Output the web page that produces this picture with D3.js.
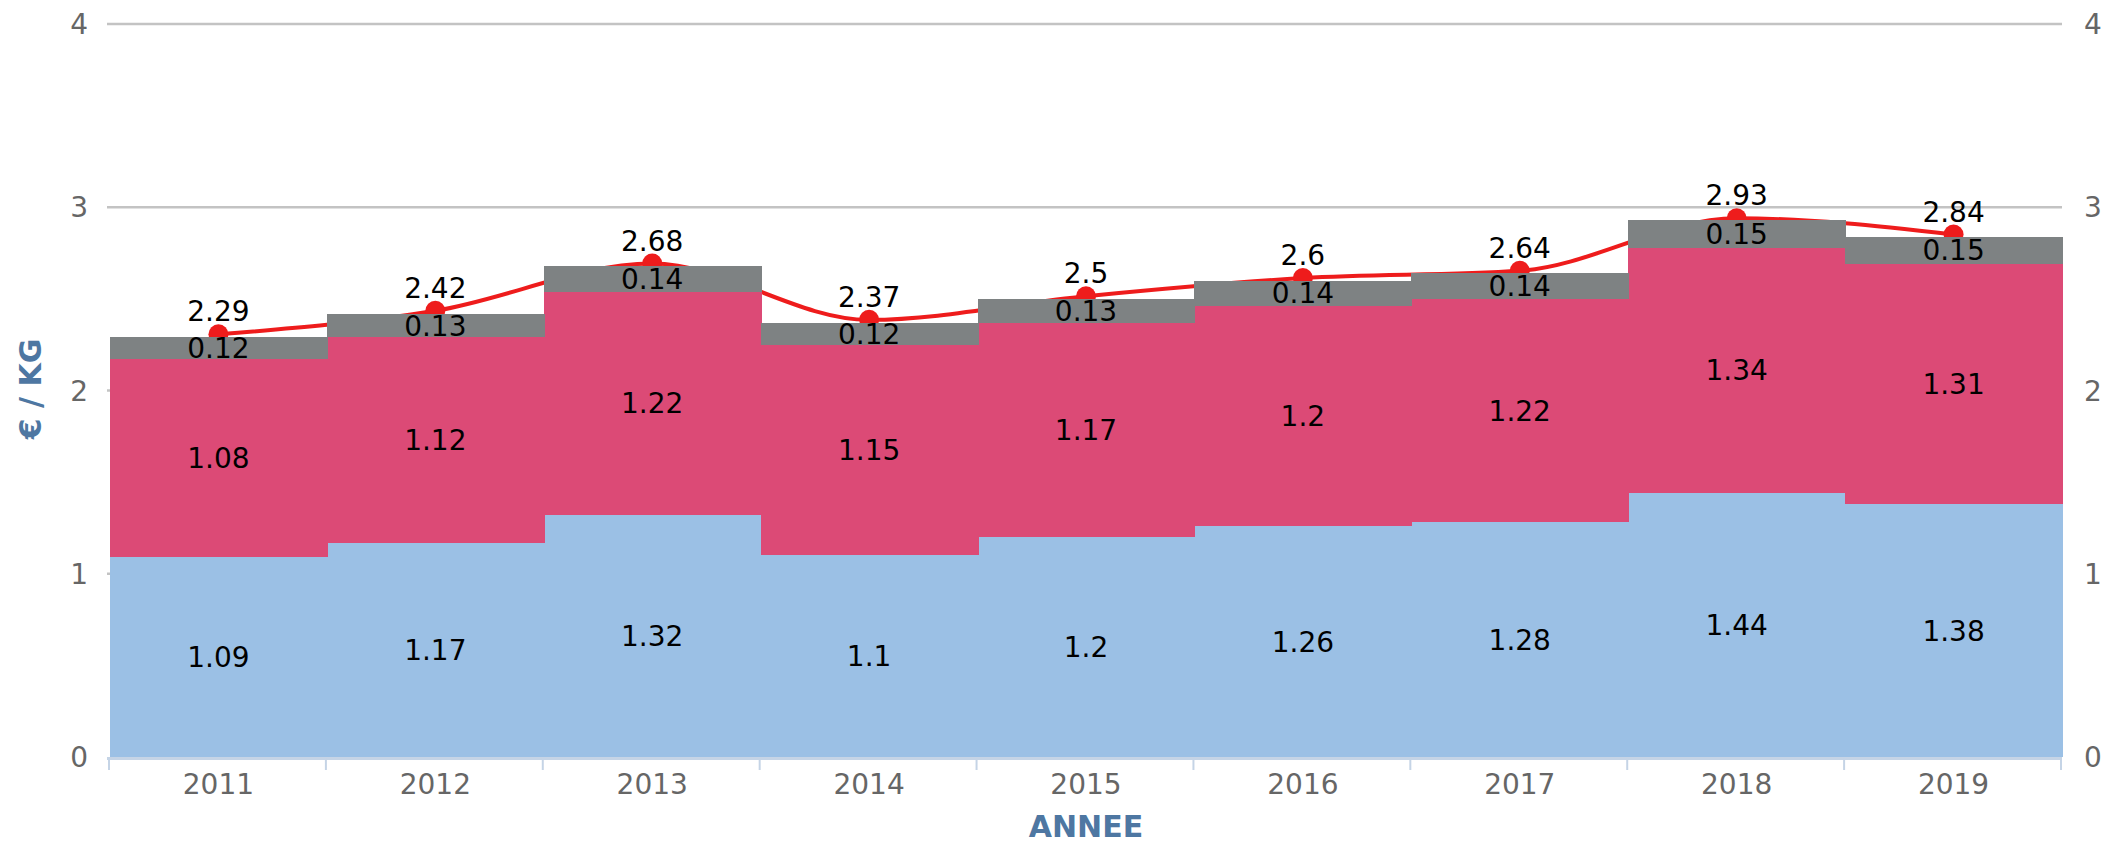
<!DOCTYPE html>
<html>
<head>
<meta charset="utf-8">
<script src="https://cdn.jsdelivr.net/npm/d3@7.9.0/dist/d3.min.js"></script>
<style>
  body { margin: 0; background: #fff; }
  svg { display: block; font-family: 'DejaVu Sans', sans-serif; }
</style>
</head>
<body>
<div id="chart"></div>
<script>
const years = ['2011', '2012', '2013', '2014', '2015', '2016', '2017', '2018', '2019'];
const blueValues = [1.09, 1.17, 1.32, 1.1, 1.2, 1.26, 1.28, 1.44, 1.38];
const redValues = [1.08, 1.12, 1.22, 1.15, 1.17, 1.2, 1.22, 1.34, 1.31];
const greyValues = [0.12, 0.13, 0.14, 0.12, 0.13, 0.14, 0.14, 0.15, 0.15];
const totalValues = [2.29, 2.42, 2.68, 2.37, 2.5, 2.6, 2.64, 2.93, 2.84];
const yTicks = [0, 1, 2, 3, 4];

const seriesKeys = ['blue', 'red', 'grey'];
const seriesColors = { blue: '#9bc0e5', red: '#dc4a76', grey: '#7e8283' };

const width = 2105;
const height = 845;

const rows = years.map((year, i) => ({
  year,
  blue: blueValues[i],
  red: redValues[i],
  grey: greyValues[i],
  total: totalValues[i],
}));

const svg = d3.select('#chart')
  .append('svg')
  .attr('width', width)
  .attr('height', height);

const x = d3.scaleBand().domain(years).range([110, 2062]).padding(0);
const y = d3.scaleLinear().domain([0, 4]).range([757, 24]);
const yLine = d3.scaleLinear().domain([0, 4]).range([750, 24]);

// gridlines
svg.append('g')
  .selectAll('line')
  .data(yTicks.filter(d => d > 0))
  .join('line')
  .attr('x1', 107)
  .attr('x2', 2062)
  .attr('y1', d => y(d))
  .attr('y2', d => y(d))
  .attr('stroke', '#c3c3c3')
  .attr('stroke-width', 2.5);

// left and right tick labels
svg.append('g')
  .selectAll('text')
  .data(yTicks)
  .join('text')
  .attr('x', 88)
  .attr('y', d => y(d))
  .attr('dy', '0.36em')
  .attr('text-anchor', 'end')
  .attr('font-size', 28)
  .attr('fill', '#666')
  .text(d => d);

svg.append('g')
  .selectAll('text')
  .data(yTicks)
  .join('text')
  .attr('x', 2084)
  .attr('y', d => y(d))
  .attr('dy', '0.36em')
  .attr('text-anchor', 'start')
  .attr('font-size', 28)
  .attr('fill', '#666')
  .text(d => d);

// total line (drawn beneath the bars)
const line = d3.line()
  .x(d => x(d.year) + x.bandwidth() / 2)
  .y(d => yLine(d.total))
  .curve(d3.curveMonotoneX);

svg.append('path')
  .datum(rows)
  .attr('d', line)
  .attr('fill', 'none')
  .attr('stroke', '#ee1c1c')
  .attr('stroke-width', 4);

svg.append('g')
  .selectAll('circle')
  .data(rows)
  .join('circle')
  .attr('cx', d => x(d.year) + x.bandwidth() / 2)
  .attr('cy', d => yLine(d.total))
  .attr('r', 10)
  .attr('fill', '#ee1c1c');

// stacked bars
const stack = d3.stack().keys(seriesKeys);
const stacked = stack(rows);

const layers = svg.append('g')
  .attr('shape-rendering', 'crispEdges')
  .selectAll('g')
  .data(stacked)
  .join('g')
  .attr('fill', d => seriesColors[d.key]);

layers.selectAll('rect')
  .data(d => d)
  .join('rect')
  .attr('x', d => Math.round(x(d.data.year)))
  .attr('width', d => Math.round(x(d.data.year) + x.bandwidth()) - Math.round(x(d.data.year)) + 1)
  .attr('y', d => y(d[1]))
  .attr('height', d => y(d[0]) - y(d[1]));

// segment labels
const segLabels = svg.append('g')
  .attr('font-size', 28)
  .attr('fill', '#000')
  .attr('text-anchor', 'middle');

stacked.forEach(layer => {
  segLabels.selectAll(null)
    .data(layer)
    .join('text')
    .attr('x', d => x(d.data.year) + x.bandwidth() / 2)
    .attr('y', d => (y(d[0]) + y(d[1])) / 2)
    .attr('dy', '0.36em')
    .text(d => d.data[layer.key]);
});

// total labels
svg.append('g')
  .selectAll('text')
  .data(rows)
  .join('text')
  .attr('x', d => x(d.year) + x.bandwidth() / 2)
  .attr('y', d => yLine(d.total) - 13)
  .attr('text-anchor', 'middle')
  .attr('font-size', 28)
  .attr('fill', '#000')
  .text(d => d.total);

// x axis
const xAxis = svg.append('g');
xAxis.append('line')
  .attr('x1', 107)
  .attr('x2', 2062)
  .attr('y1', 758.5)
  .attr('y2', 758.5)
  .attr('stroke', '#c5d4e6')
  .attr('stroke-width', 3);

xAxis.selectAll('.tick')
  .data([...years.map(d => x(d)), x.range()[1]])
  .join('line')
  .attr('x1', d => d - 1)
  .attr('x2', d => d - 1)
  .attr('y1', 758)
  .attr('y2', 770)
  .attr('stroke', '#c5d4e6')
  .attr('stroke-width', 2);

xAxis.selectAll('text')
  .data(years)
  .join('text')
  .attr('x', d => x(d) + x.bandwidth() / 2)
  .attr('y', 794)
  .attr('text-anchor', 'middle')
  .attr('font-size', 28)
  .attr('fill', '#666')
  .text(d => d);

// axis titles
svg.append('text')
  .attr('x', (x.range()[0] + x.range()[1]) / 2)
  .attr('y', 837)
  .attr('text-anchor', 'middle')
  .attr('font-size', 30)
  .attr('font-weight', 'bold')
  .attr('fill', '#4e77a2')
  .text('ANNEE');

svg.append('text')
  .attr('transform', 'translate(41,389) rotate(-90)')
  .attr('text-anchor', 'middle')
  .attr('font-size', 30)
  .attr('font-weight', 'bold')
  .attr('fill', '#4e77a2')
  .text('€ / KG');
</script>
</body>
</html>
